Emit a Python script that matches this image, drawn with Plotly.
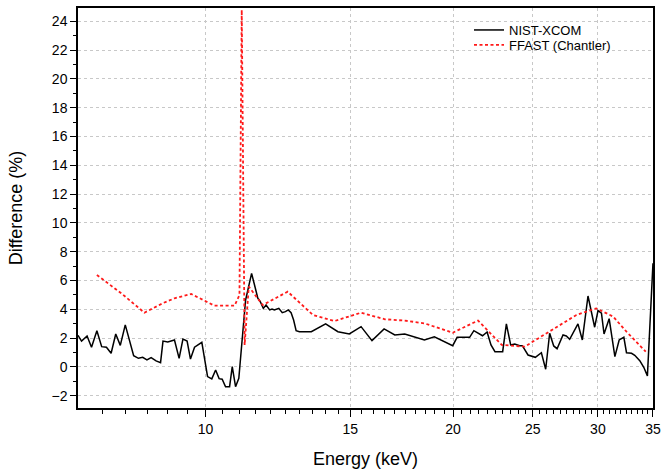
import plotly.graph_objects as go

# NIST-XCOM difference (%) vs energy (keV)
nist_energy = [7.0, 7.07, 7.18, 7.27, 7.38, 7.48, 7.58, 7.68, 7.78, 7.88, 7.99, 8.08, 8.18,
               8.29, 8.39, 8.49, 8.59, 8.71, 8.82, 8.88, 9.0, 9.17, 9.29, 9.39, 9.5, 9.59,
               9.70, 9.90, 10.06, 10.18, 10.29, 10.39, 10.48, 10.58, 10.70, 10.78, 10.88,
               10.98, 11.19, 11.38, 11.58, 11.66, 11.76, 11.85, 11.97, 12.05, 12.13, 12.28,
               12.40, 12.51, 12.61, 12.71, 12.80, 12.89, 13.01, 13.45, 14.0, 14.49, 14.96,
               15.46, 15.94, 16.49, 16.99, 17.47, 17.96, 18.46, 18.98, 19.43, 19.98, 20.23,
               20.95, 21.20, 21.72, 22.00, 22.24, 22.49, 22.98, 23.22, 23.50, 23.77, 24.10,
               24.28, 24.67, 25.18, 25.61, 25.92, 26.21, 26.51, 26.76, 27.21, 27.46, 27.72,
               28.03, 28.37, 28.72, 29.18, 29.73, 30.01, 30.30, 30.52, 30.96, 31.46, 31.84,
               32.26, 32.50, 32.96, 33.26, 33.73, 34.11, 34.46, 35.0]
nist_diff = [2.2, 1.8, 2.15, 1.37, 2.52, 1.41, 1.37, 0.95, 2.29, 1.5, 2.92, 1.875, 0.78,
             0.6, 0.67, 0.49, 0.65, 0.42, 0.3, 1.8, 1.74, 1.875, 0.6, 1.94, 1.8, 0.55,
             1.37, 1.71, -0.67, -0.83, -0.21, -0.81, -0.85, -1.37, -1.37, 0.02, -1.37,
             -0.79, 4.65, 6.5, 4.77, 4.53, 4.07, 4.3, 3.96, 4.03, 3.96, 4.07,
             3.77, 3.84, 3.96, 3.77, 3.26, 2.52, 2.45, 2.45, 2.99, 2.45, 2.29,
             2.8, 1.83, 2.64, 2.22, 2.29, 2.1, 1.875, 2.1, 1.83, 1.48, 2.06,
             2.06, 2.52, 2.17, 2.43, 1.53, 1.06, 1.06, 2.99, 1.53, 1.6, 1.48,
             1.48, 0.83, 0.67, 0.99, -0.16, 2.34, 1.46, 1.27, 2.22, 2.15, 1.92,
             2.45, 2.99, 1.875, 4.93, 2.76, 3.91, 3.73, 2.29, 3.35, 0.72, 1.875,
             2.06, 0.99, 0.95, 0.81, 0.44, -0.02, -0.62, 7.2]

# FFAST (Chantler) difference (%) vs energy (keV)
ffast_energy = [7.38, 7.90, 8.43, 8.87, 9.17, 9.61, 10.25, 10.85, 11.0, 11.07, 11.16, 11.29,
                11.74, 12.59, 13.51, 14.35, 15.46, 16.53, 17.47, 18.46, 18.98, 19.98, 21.45,
                22.92, 24.44, 26.21, 28.25, 29.87, 31.31, 32.50, 34.30]
ffast_diff = [6.39, 5.12, 3.77, 4.42, 4.77, 5.07, 4.26, 4.26, 5.0, 24.8, 1.53, 5.58,
              4.3, 5.23, 3.61, 3.19, 3.77, 3.31, 3.22, 3.03, 2.8, 2.38, 3.22,
              1.53, 1.41, 2.45, 3.61, 4.07, 3.5, 2.45, 1.06]

x_ticks = [10, 15, 20, 25, 30, 35]
y_ticks = list(range(-2, 25, 2))
x_minor = [v / 2 for v in range(15, 70) if (v / 2) not in x_ticks]
y_minor = list(range(-3, 25, 2))

fig = go.Figure()
fig.add_trace(go.Scatter(x=nist_energy, y=nist_diff, mode="lines", name="NIST-XCOM",
                         line=dict(color="black", width=1.5), legend="legend"))
fig.add_trace(go.Scatter(x=ffast_energy, y=ffast_diff, mode="lines", name="FFAST (Chantler)",
                         line=dict(color="#ff1a1a", width=1.8, dash="3px,2.5px"), legend="legend2"))

font_family = "Liberation Sans, Arial, sans-serif"
legend_common = dict(x=0.68, xanchor="left", yanchor="middle", bgcolor="rgba(0,0,0,0)",
                     borderwidth=0, font=dict(family=font_family, size=13, color="black"),
                     itemwidth=30)

fig.update_layout(
    width=661, height=472,
    margin=dict(l=78, r=8, t=8, b=64, autoexpand=False),
    paper_bgcolor="white", plot_bgcolor="white",
    font=dict(family=font_family, color="black"),
    showlegend=True,
    legend=dict(y=0.945, **legend_common),
    legend2=dict(y=0.9075, **legend_common),
    shapes=[dict(type="rect", xref="paper", yref="paper", x0=0.68, x1=0.955,
                 y0=0.875, y1=0.975, fillcolor="white", line=dict(width=0),
                 layer="between")],
    xaxis=dict(
        type="log", range=[0.8451, 1.5441], automargin=False,
        tickmode="array", tickvals=x_ticks, ticktext=[str(v) for v in x_ticks],
        ticks="outside", ticklen=7, tickwidth=1, tickcolor="black",
        showline=True, linecolor="black", linewidth=1.5, mirror=True,
        showgrid=True, gridcolor="#c8c8c8", griddash="dot", gridwidth=1,
        zeroline=False,
        tickfont=dict(size=14),
        minor=dict(tickmode="array", tickvals=x_minor, ticks="outside", ticklen=4,
                   tickcolor="black", showgrid=False),
        title=dict(text="Energy (keV)", font=dict(size=18), standoff=17),
    ),
    yaxis=dict(
        range=[-2.85, 24.93], automargin=False,
        tickmode="array", tickvals=y_ticks,
        ticks="outside", ticklen=6, tickwidth=1, tickcolor="black",
        showline=True, linecolor="black", linewidth=1.5, mirror=True,
        showgrid=True, gridcolor="#c8c8c8", griddash="dot", gridwidth=1,
        zeroline=False,
        tickfont=dict(size=14),
        minor=dict(tickmode="array", tickvals=y_minor, ticks="outside", ticklen=3,
                   tickcolor="black", showgrid=False),
        title=dict(text="Difference (%)", font=dict(size=18), standoff=24),
    ),
)

fig.write_html("out.html", config={"displayModeBar": False},
               post_script="document.body.style.margin='0';document.body.style.overflow='hidden';")
